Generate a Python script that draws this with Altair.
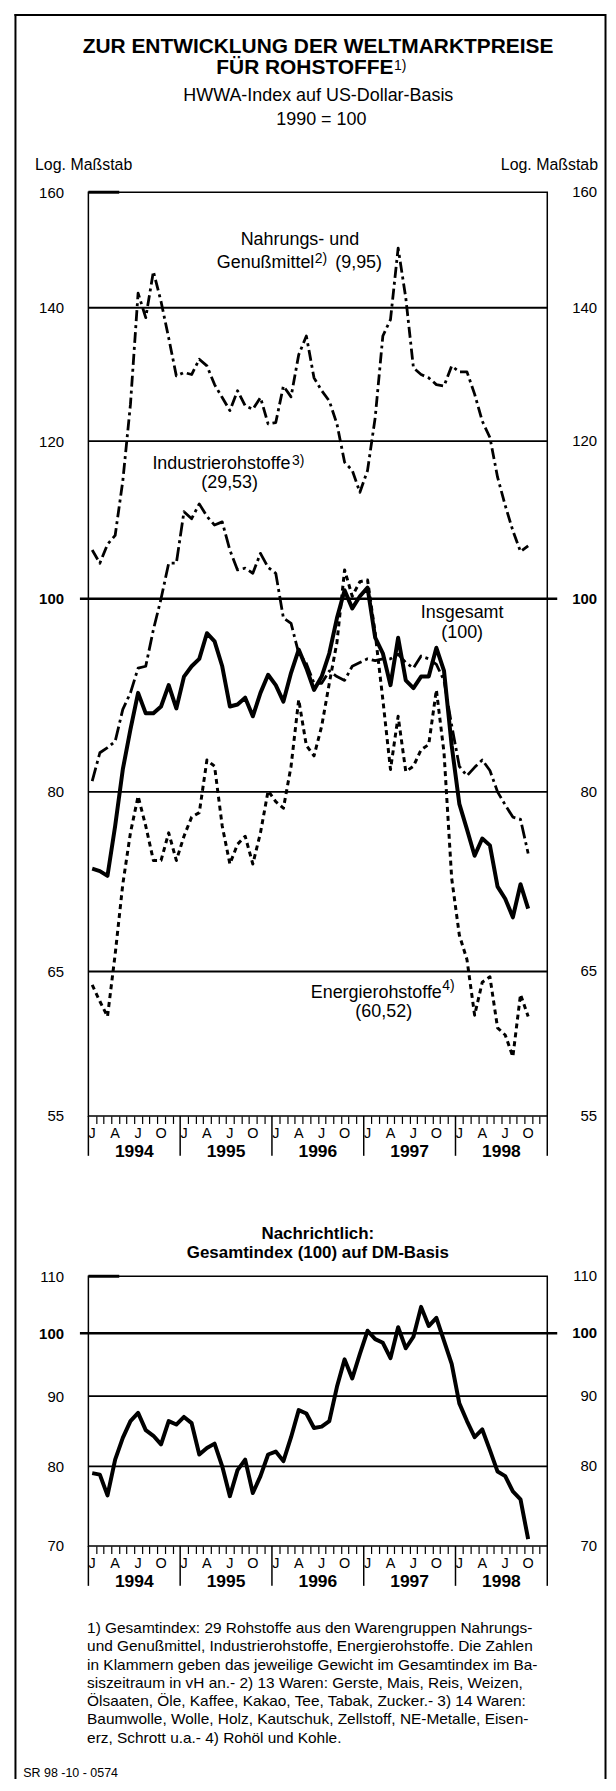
import altair as alt
import pandas as pd

# ---------------- data (monthly, Jan 1994 .. Oct 1998) ----------------
months = list(range(58))
insgesamt = [73.2, 73.0, 72.6, 76.9, 82.1, 86.0, 89.7, 87.6, 87.6, 88.3, 90.5, 88.1,
             91.4, 92.5, 93.3, 96.1, 95.2, 92.5, 88.3, 88.5, 89.2, 87.3, 89.7, 91.6,
             90.5, 88.8, 91.8, 94.3, 92.3, 90.0, 91.4, 93.9, 97.8, 101.0, 98.9, 100.3,
             101.3, 95.6, 93.9, 90.5, 95.6, 91.0, 90.2, 91.4, 91.4, 94.5, 92.0, 84.4,
             78.9, 76.6, 74.3, 75.8, 75.2, 71.7, 70.7, 69.2, 71.9, 69.9]
nahrung = [105.8, 104.2, 106.5, 107.6, 114.6, 125.2, 142.4, 138.4, 146.0, 141.0, 135.2, 129.4,
           129.9, 129.6, 131.9, 130.9, 128.1, 126.2, 124.3, 127.2, 125.0, 124.5, 126.2, 122.4,
           122.6, 127.9, 126.3, 132.6, 135.5, 129.1, 127.2, 125.7, 122.4, 117.1, 116.0, 113.1,
           116.0, 123.3, 135.5, 138.1, 150.0, 141.6, 130.6, 129.6, 129.1, 128.1, 127.9, 130.9,
           130.0, 130.0, 126.7, 122.8, 120.5, 115.1, 111.4, 108.2, 105.6, 106.3]
industrie = [81.0, 83.7, 84.2, 84.8, 88.0, 89.7, 92.3, 92.5, 96.5, 100.0, 104.2, 104.2,
             110.6, 109.7, 111.6, 110.0, 108.9, 109.3, 105.8, 103.4, 103.6, 103.0, 105.4, 103.7,
             103.0, 97.8, 97.2, 93.9, 92.8, 90.7, 90.7, 92.0, 91.4, 91.0, 92.5, 92.9,
             93.3, 93.1, 93.3, 93.3, 93.8, 92.9, 92.3, 93.6, 93.3, 92.7, 91.0, 86.4,
             82.4, 81.5, 82.3, 83.0, 82.0, 80.0, 78.8, 77.7, 77.5, 74.5]
energie = [64.0, 62.8, 61.7, 66.3, 71.9, 76.3, 79.6, 76.9, 73.9, 73.9, 76.3, 73.9,
           76.0, 77.7, 78.1, 83.0, 82.4, 76.9, 73.6, 75.3, 76.0, 73.6, 76.3, 80.1,
           79.1, 78.5, 82.4, 89.0, 84.4, 83.4, 86.3, 90.7, 95.1, 103.4, 100.3, 102.0,
           102.2, 96.1, 89.0, 82.1, 87.3, 81.9, 82.4, 84.0, 84.5, 90.0, 83.7, 72.4,
           67.8, 65.9, 61.8, 64.2, 64.6, 60.9, 60.4, 58.9, 63.3, 61.7]
dm_basis = [79.1, 78.9, 76.2, 80.9, 83.9, 86.3, 87.5, 85.0, 84.2, 83.0, 86.3, 85.8,
            86.9, 86.0, 81.6, 82.5, 83.1, 80.0, 76.1, 79.5, 80.9, 76.5, 78.7, 81.6,
            82.0, 80.7, 84.0, 87.9, 87.4, 85.3, 85.5, 86.3, 91.4, 95.7, 92.7, 96.6,
            100.4, 99.0, 98.4, 95.9, 101.0, 97.5, 99.4, 104.5, 101.2, 102.6, 98.7, 95.0,
            88.9, 86.3, 84.0, 85.1, 82.2, 79.3, 78.7, 76.7, 75.7, 70.8]

top_ticks = [55, 65, 80, 100, 120, 140, 160]
top_grid = [65, 80, 120, 140]
bot_ticks = [70, 80, 90, 100, 110]
bot_grid = [80, 90]
month_letters = ["J", "A", "J", "O"]
years = ["1994", "1995", "1996", "1997", "1998"]

footnote = [
    "1) Gesamtindex: 29 Rohstoffe aus den Warengruppen Nahrungs-",
    "und Genußmittel, Industrierohstoffe, Energierohstoffe. Die Zahlen",
    "in Klammern geben das jeweilige Gewicht im Gesamtindex im Ba-",
    "siszeitraum in vH an.- 2) 13 Waren: Gerste, Mais, Reis, Weizen,",
    "Ölsaaten, Öle, Kaffee, Kakao, Tee, Tabak, Zucker.- 3) 14 Waren:",
    "Baumwolle, Wolle, Holz, Kautschuk, Zellstoff, NE-Metalle, Eisen-",
    "erz, Schrott u.a.- 4) Rohöl und Kohle.",
]

FONT = "Liberation Sans"
W, H1, H2, GAP = 461, 928, 271, 161

xs = alt.Scale(domain=[0, 60], nice=False, zero=False)
ys_top = alt.Scale(type="log", domain=[55, 160], nice=False)
ys_bot = alt.Scale(type="log", domain=[70, 110], nice=False)

MINOR = [v for v in range(1, 60) if v % 12]
MAJOR = list(range(0, 61, 12))

XAX = alt.Axis(values=MINOR, orient="bottom", labels=False, tickSize=7.5, tickWidth=1.2,
               tickColor="black", domain=False, grid=False, title=None)


def y_axis(ticks):
    return alt.Axis(values=ticks, orient="left", ticks=False, tickSize=0, domain=False,
                    grid=False, title=None, labelFontSize=15, labelFont=FONT,
                    labelColor="black", labelBaseline="middle", labelAlign="right",
                    labelPadding=25, labelOverlap=False, labelFlush=False,
                    labelFontWeight={"condition": {"test": "datum.value == 100",
                                                   "value": "bold"},
                                     "value": "normal"})


YAX_TOP = y_axis(top_ticks)
YAX_BOT = y_axis(bot_ticks)


def series_line(vals, ys, yax, width, dash=None):
    df = pd.DataFrame({"m": [i + 0.5 for i in months], "v": vals})
    kw = dict(color="black", strokeWidth=width, strokeJoin="round")
    if dash:
        kw["strokeDash"] = dash
    return alt.Chart(df).mark_line(**kw).encode(
        x=alt.X("m:Q", scale=xs, axis=XAX),
        y=alt.Y("v:Q", scale=ys, axis=yax))


def grid(vals, ys, yax):
    return alt.Chart(pd.DataFrame({"v": vals})).mark_rule(color="black", strokeWidth=1.8).encode(
        y=alt.Y("v:Q", scale=ys, axis=yax))


def hundred(ys, yax):
    return alt.Chart(pd.DataFrame({"v": [100]})).mark_rule(color="black", strokeWidth=2.5).encode(
        y=alt.Y("v:Q", scale=ys, axis=yax), x=alt.value(-8.5), x2=alt.value(W + 10))


def top_stub(top_value, ys, yax):
    # short heavier segment at the upper left corner of the panel frame
    return alt.Chart(pd.DataFrame({"v": [top_value]})).mark_rule(color="black", strokeWidth=3).encode(
        y=alt.Y("v:Q", scale=ys, axis=yax), x=alt.value(0), x2=alt.value(31))


def right_labels(vals, ys, yax, bold):
    return alt.Chart(pd.DataFrame({"v": vals})).mark_text(
        align="right", baseline="middle", fontSize=15, font=FONT, color="black",
        fontWeight="bold" if bold else "normal").encode(
        y=alt.Y("v:Q", scale=ys, axis=yax), x=alt.value(W + 50),
        text=alt.Text("v:Q", format="d"))


def x_decor(H):
    seps = alt.Chart(pd.DataFrame({"m": MAJOR})).mark_rule(color="black", strokeWidth=1.5).encode(
        x=alt.X("m:Q", scale=xs, axis=XAX), y=alt.value(H), y2=alt.value(H + 40))
    lm = [i for i in range(0, 60, 3)]
    letters = alt.Chart(pd.DataFrame({"m": [i + 0.5 for i in lm],
                                      "t": [month_letters[(i % 12) // 3] for i in lm]})).mark_text(
        fontSize=14.5, baseline="alphabetic", font=FONT, color="black").encode(
        x=alt.X("m:Q", scale=xs, axis=XAX), y=alt.value(H + 22.5), text="t:N")
    yl = alt.Chart(pd.DataFrame({"m": [6 + 12 * k for k in range(len(years))],
                                 "t": years})).mark_text(
        fontSize=17.5, fontWeight="bold", baseline="alphabetic", font=FONT, color="black").encode(
        x=alt.X("m:Q", scale=xs, axis=XAX), y=alt.value(H + 41), text="t:N")
    return [seps, letters, yl]


def txt(text, x, y, size=18, weight="normal", align="left"):
    return alt.Chart(pd.DataFrame({"t": [text]})).mark_text(
        align=align, baseline="alphabetic", fontSize=size, fontWeight=weight, font=FONT,
        color="black").encode(x=alt.value(x), y=alt.value(y), text="t:N")


def rule_px(x, y, x2=None, y2=None, w=2):
    enc = dict(x=alt.value(x), y=alt.value(y))
    if x2 is not None:
        enc["x2"] = alt.value(x2)
    if y2 is not None:
        enc["y2"] = alt.value(y2)
    return alt.Chart(pd.DataFrame({"a": [0]})).mark_rule(color="black", strokeWidth=w).encode(**enc)


# ---------------- top panel ----------------
top_layers = [
    grid(top_grid, ys_top, YAX_TOP),
    hundred(ys_top, YAX_TOP),
    top_stub(160, ys_top, YAX_TOP),
    series_line(energie, ys_top, YAX_TOP, 3, [5, 4]),
    series_line(nahrung, ys_top, YAX_TOP, 2.8, [11, 4, 3, 4]),
    series_line(industrie, ys_top, YAX_TOP, 2.8, [14, 4, 3, 4]),
    series_line(insgesamt, ys_top, YAX_TOP, 4),
    right_labels([v for v in top_ticks if v != 100], ys_top, YAX_TOP, False),
    right_labels([100], ys_top, YAX_TOP, True),
    *x_decor(H1),
    # frame
    rule_px(-74.25, -178, x2=519.5),
    rule_px(-73.25, -179, y2=1594),
    rule_px(519.5, -179, y2=1594),
    # titles
    txt("ZUR ENTWICKLUNG DER WELTMARKTPREISE", 230.7, -140.3, 21, "bold", "center"),
    txt("FÜR ROHSTOFFE", 306.5, -118.7, 21, "bold", "right"),
    txt("1)", 307, -123, 14),
    txt("HWWA-Index auf US-Dollar-Basis", 231, -91.5, 18, align="center"),
    txt("1990 = 100", 234, -68, 18, align="center"),
    txt("Log. Maßstab", -53.6, -22.5, 16),
    txt("Log. Maßstab", 512, -22.5, 16, align="right"),
    # series labels
    txt("Nahrungs- und", 212.5, 53, 18, align="center"),
    txt("Genußmittel", 129, 75.7, 18),
    txt("2)", 227.5, 71, 14),
    txt("(9,95)", 248, 75.7, 18),
    txt("Industrierohstoffe", 64.3, 278.5, 18),
    txt("3)", 204.5, 274, 14),
    txt("(29,53)", 141.9, 297.5, 18, align="center"),
    txt("Insgesamt", 375.5, 427.5, 18, align="center"),
    txt("(100)", 375.5, 447.5, 18, align="center"),
    txt("Energierohstoffe", 223.4, 809, 18),
    txt("4)", 355.5, 801, 14),
    txt("(60,52)", 296.7, 829, 18, align="center"),
]
top = alt.layer(*top_layers).properties(width=W, height=H1)

# ---------------- bottom panel ----------------
bot_layers = [
    grid(bot_grid, ys_bot, YAX_BOT),
    hundred(ys_bot, YAX_BOT),
    top_stub(110, ys_bot, YAX_BOT),
    series_line(dm_basis, ys_bot, YAX_BOT, 4),
    right_labels([v for v in bot_ticks if v != 100], ys_bot, YAX_BOT, False),
    right_labels([100], ys_bot, YAX_BOT, True),
    *x_decor(H2),
    txt("Nachrichtlich:", 230.5, -37.7, 17, "bold", "center"),
    txt("Gesamtindex (100) auf DM-Basis", 230.5, -18.5, 17, "bold", "center"),
    *[txt(line, -1.3, 358.5 + k * 18.33, 15.5) for k, line in enumerate(footnote)],
    txt("SR 98 -10 - 0574", -65.4, 503, 12.5),
]
bottom = alt.layer(*bot_layers).properties(width=W, height=H2)

chart = alt.vconcat(top, bottom, spacing=GAP, bounds="flush").properties(
    padding={"left": 4.75, "top": 0, "right": 0, "bottom": 0},
    background="white",
).configure_view(stroke="black", strokeWidth=1.5)

chart.save("out.html", embed_options={"renderer": "svg", "actions": False})
